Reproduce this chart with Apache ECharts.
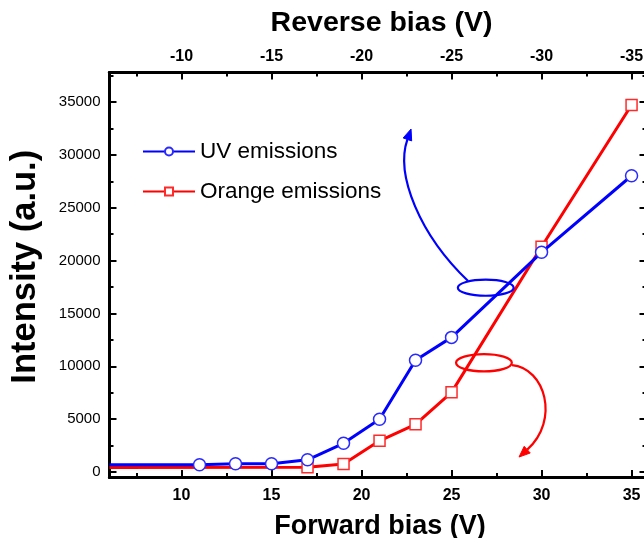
<!DOCTYPE html>
<html>
<head>
<meta charset="utf-8">
<script src="https://cdn.jsdelivr.net/npm/echarts@6/dist/echarts.min.js"></script>
<style>
  html, body { margin: 0; padding: 0; background: #fff; }
  #chart { width: 644px; height: 538px; }
</style>
</head>
<body>
<div id="chart"></div>
<script>
// Forward bias sweep (V) and measured intensities (a.u.)
const uvBias = [6, 11, 13, 15, 17, 19, 21, 23, 25, 30, 35];
const uvIntensity = [690, 690, 785, 790, 1160, 2720, 5000, 10570, 12740, 20790, 28030];
const orangeBias = [6, 17, 19, 21, 23, 25, 30, 35];
const orangeIntensity = [420, 450, 760, 2950, 4510, 7540, 21320, 34720];

// Axis ticks
const forwardTicks = [10, 15, 20, 25, 30, 35];
const forwardMinor = [7.5, 12.5, 17.5, 22.5, 27.5, 32.5];
const reverseTickLabels = ['-10', '-15', '-20', '-25', '-30', '-35'];
const intensityTicks = [0, 5000, 10000, 15000, 20000, 25000, 30000, 35000];
const intensityMinor = [2500, 7500, 12500, 17500, 22500, 27500, 32500, 37500];

const FONT = 'Liberation Sans, Arial, Helvetica, sans-serif';
const X_MIN = 6, X_MAX = 35.83, Y_MIN = -470, Y_MAX = 37800;

function pairs(xs, ys) { return xs.map((x, i) => [x, ys[i]]); }
function withLeadingHidden(arr) {
  return arr.map((p, i) => i === 0 ? { value: p, symbol: 'none' } : p);
}

const axisLineStyle = { color: '#000', width: 3 };
const tickStyle = { color: '#000', width: 2 };

function xAxisDef(position, ticks, len, extra) {
  return Object.assign({
    type: 'value', position: position, min: X_MIN, max: X_MAX,
    axisLine: { show: true, onZero: false, lineStyle: axisLineStyle },
    axisTick: { show: true, inside: true, length: len, lineStyle: tickStyle, customValues: ticks },
    axisLabel: { show: false },
    splitLine: { show: false }
  }, extra || {});
}
function yAxisDef(position, ticks, len, extra) {
  return Object.assign({
    type: 'value', position: position, min: Y_MIN, max: Y_MAX,
    axisLine: { show: true, onZero: false, lineStyle: axisLineStyle },
    axisTick: { show: true, inside: true, length: len, lineStyle: tickStyle, customValues: ticks },
    axisLabel: { show: false },
    splitLine: { show: false }
  }, extra || {});
}

const chart = echarts.init(document.getElementById('chart'), null, { renderer: 'canvas' });

chart.setOption({
  animation: false,
  backgroundColor: '#fff',
  textStyle: { fontFamily: FONT },
  grid: { left: 109.5, top: 72.5, width: 537, height: 404.5, containLabel: false, outerBoundsMode: 'none' },
  legend: {
    orient: 'vertical', left: 137, top: 135,
    itemWidth: 52, itemHeight: 10, itemGap: 17,
    data: ['UV emissions', 'Orange emissions'],
    textStyle: { fontSize: 22.5, color: '#000', fontFamily: FONT }
  },
  xAxis: [
    xAxisDef('bottom', forwardTicks, 7, {
      axisLabel: { show: true, customValues: forwardTicks, fontSize: 16, fontWeight: 'bold', color: '#000', margin: 11 },
      name: 'Forward bias (V)', nameLocation: 'middle', nameGap: 36,
      nameTextStyle: { fontSize: 27, fontWeight: 'bold', color: '#000', fontFamily: FONT, padding: [0, 0, 0, 4] }
    }),
    xAxisDef('bottom', forwardMinor, 4),
    xAxisDef('top', forwardTicks, 7, {
      axisLabel: {
        show: true, customValues: forwardTicks, fontSize: 16, fontWeight: 'bold', color: '#000', margin: 8,
        formatter: v => reverseTickLabels[forwardTicks.indexOf(v)]
      },
      name: 'Reverse bias (V)', nameLocation: 'middle', nameGap: 35,
      nameTextStyle: { fontSize: 28.5, fontWeight: 'bold', color: '#000', fontFamily: FONT, padding: [0, 0, 0, 7] }
    }),
    xAxisDef('top', forwardMinor, 4)
  ],
  yAxis: [
    yAxisDef('left', intensityTicks, 7, {
      axisLabel: { show: true, customValues: intensityTicks, fontSize: 15, color: '#000', margin: 9, formatter: v => String(v) },
      name: 'Intensity (a.u.)', nameLocation: 'middle', nameGap: 67, nameRotate: 90,
      nameTextStyle: { fontSize: 34.5, fontWeight: 'bold', color: '#000', fontFamily: FONT, padding: [0, 0, 0, 16] }
    }),
    yAxisDef('left', intensityMinor, 4),
    yAxisDef('right', intensityTicks, 7),
    yAxisDef('right', intensityMinor, 4)
  ],
  series: [
    {
      name: 'Orange emissions', type: 'line', xAxisIndex: 0, yAxisIndex: 0,
      data: withLeadingHidden(pairs(orangeBias, orangeIntensity)),
      symbol: 'rect', symbolSize: 11,
      lineStyle: { color: '#ff0000', width: 3 },
      itemStyle: { color: '#fff', borderColor: '#ff2a2a', borderWidth: 1.5 },
      z: 3
    },
    {
      name: 'UV emissions', type: 'line', xAxisIndex: 0, yAxisIndex: 0,
      data: withLeadingHidden(pairs(uvBias, uvIntensity)),
      symbol: 'circle', symbolSize: 12,
      lineStyle: { color: '#0000ff', width: 3 },
      itemStyle: { color: '#fff', borderColor: '#2a2aff', borderWidth: 1.5 },
      z: 4
    }
  ]
});

// Annotation loops with curved arrows, placed in data coordinates
const callouts = [
  {
    color: '#0000ff',
    loop: { center: [26.9, 17436], rx: 1.55, ry: 760 },
    curve: [[25.92, 18070], [23.25, 22420], [21.86, 28100], [22.75, 32450]]
  },
  {
    color: '#ff0000',
    loop: { center: [26.8, 10340], rx: 1.55, ry: 820 },
    curve: [[28.36, 10120], [30.19, 9840], [31.03, 4920], [28.75, 1420]]
  }
];

function px(p) { return chart.convertToPixel({ xAxisIndex: 0, yAxisIndex: 0 }, p); }

const graphics = [];
callouts.forEach(c => {
  const ctr = px(c.loop.center);
  const edgeX = px([c.loop.center[0] + c.loop.rx, c.loop.center[1]]);
  const edgeY = px([c.loop.center[0], c.loop.center[1] + c.loop.ry]);
  graphics.push({
    type: 'ellipse', z: 10,
    shape: { cx: ctr[0], cy: ctr[1], rx: Math.abs(edgeX[0] - ctr[0]), ry: Math.abs(ctr[1] - edgeY[1]) },
    style: { fill: null, stroke: c.color, lineWidth: 2.2 }
  });
  const pts = c.curve.map(px);
  const tip = pts[3];
  const dx = tip[0] - pts[2][0], dy = tip[1] - pts[2][1];
  const len = Math.hypot(dx, dy);
  const ux = dx / len, uy = dy / len;
  const headLen = 11, headHalf = 4.5;
  const base = [tip[0] - ux * headLen, tip[1] - uy * headLen];
  graphics.push({
    type: 'bezierCurve', z: 10,
    shape: { x1: pts[0][0], y1: pts[0][1], cpx1: pts[1][0], cpy1: pts[1][1], cpx2: pts[2][0], cpy2: pts[2][1], x2: base[0], y2: base[1] },
    style: { fill: null, stroke: c.color, lineWidth: 2.2 }
  });
  graphics.push({
    type: 'polygon', z: 10,
    shape: { points: [tip, [base[0] - uy * headHalf, base[1] + ux * headHalf], [base[0] + uy * headHalf, base[1] - ux * headHalf]] },
    style: { fill: c.color, stroke: c.color, lineWidth: 1 }
  });
});
chart.setOption({ graphic: graphics });
</script>
</body>
</html>
